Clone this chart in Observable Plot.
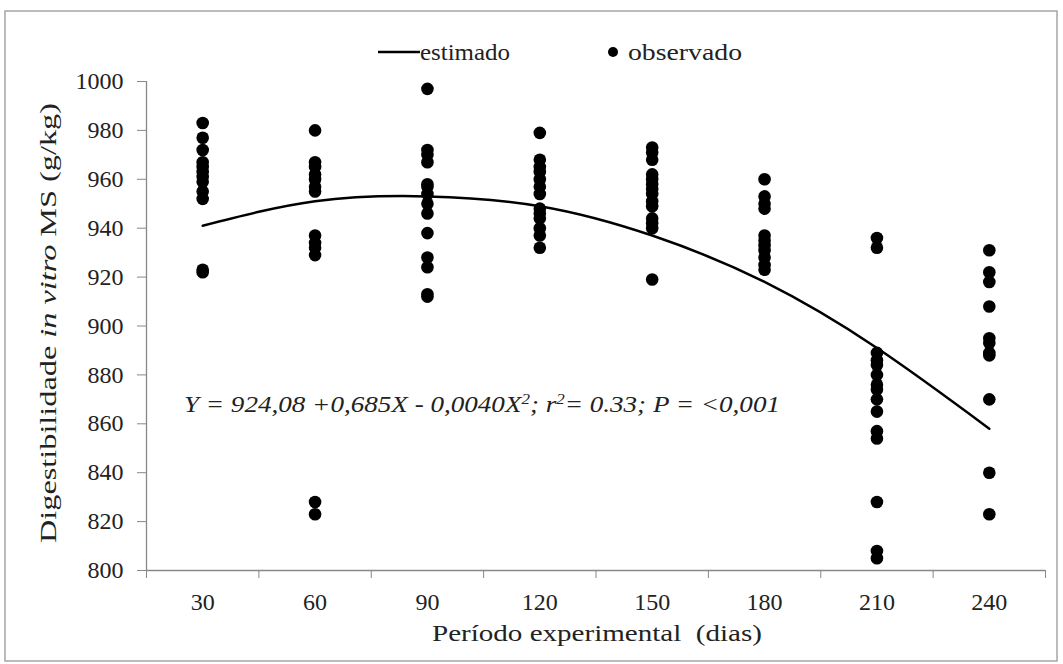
<!DOCTYPE html>
<html>
<head>
<meta charset="utf-8">
<script src="https://cdn.jsdelivr.net/npm/d3@7"></script>
<script src="https://cdn.jsdelivr.net/npm/@observablehq/plot@0.6"></script>
<style>
  html, body { margin: 0; padding: 0; background: #fff; }
  #chart svg { display: block; }
</style>
</head>
<body>
<div id="chart"></div>
<script>
// Categories (days) and tick labels
const xCats = [30, 60, 90, 120, 150, 180, 210, 240];
const xBounds = [15, 45, 75, 105, 135, 165, 195, 225, 255];
const yTicks = [800, 820, 840, 860, 880, 900, 920, 940, 960, 980, 1000];

// Observed values per period (g/kg)
const obs30  = [983, 977, 972, 967, 965, 963, 961, 959, 955, 952, 923, 922];
const obs60  = [980, 967, 965, 962, 960, 957, 955, 937, 934, 932, 929, 828, 823];
const obs90  = [997, 972, 970, 967, 958, 957, 954, 950, 946, 938, 928, 924, 913, 912];
const obs120 = [979, 968, 965, 963, 960, 957, 954, 948, 946, 944, 940, 937, 932];
const obs150 = [973, 971, 968, 962, 960, 958, 956, 954, 951, 949, 944, 942, 940, 919];
const obs180 = [960, 953, 950, 948, 937, 935, 933, 931, 928, 925, 923];
const obs210 = [936, 932, 889, 886, 884, 880, 876, 874, 870, 865, 857, 854, 828, 808, 805];
const obs240 = [931, 922, 918, 908, 895, 893, 889, 888, 870, 840, 823];

// Estimated (fitted) values read at each period
const estimated = [941, 951, 953, 949, 937, 918, 891, 858];

const obsSeries = [obs30, obs60, obs90, obs120, obs150, obs180, obs210, obs240];
const observed = xCats.flatMap((x, i) => obsSeries[i].map(v => ({x, v})));
const estData = xCats.map((x, i) => ({x, v: estimated[i]}));

const FONT = '"Liberation Serif", "Times New Roman", serif';
const FS = 24;

const plot = Plot.plot({
  width: 1063,
  height: 664,
  marginLeft: 146,
  marginRight: 18,
  marginTop: 81,
  marginBottom: 94,
  style: {fontFamily: FONT, fontSize: FS + "px", color: "#222", background: "#fff"},
  x: {type: "linear", domain: [15, 255]},
  y: {domain: [800, 1000]},
  marks: [
    Plot.ruleY([800], {stroke: "#888", strokeWidth: 1.3}),
    Plot.ruleX([15], {y1: 800, y2: 1000, stroke: "#888", strokeWidth: 1.3}),
    Plot.axisY(yTicks, {tickSize: 9, tickPadding: 14, tickFormat: "d", stroke: "#888", fill: "#222", fontSize: FS, label: null}),
    Plot.axisX(xBounds, {tickSize: 8, tickFormat: () => "", stroke: "#888", label: null}),
    Plot.axisX(xCats, {tickSize: 0, tickPadding: 22, tickFormat: "d", fill: "#222", fontSize: FS, label: null}),
    Plot.line(estData, {x: "x", y: "v", curve: "natural", stroke: "#000", strokeWidth: 2.5}),
    Plot.dot(observed, {x: "x", y: "v", r: 6.3, fill: "#000", stroke: "none"})
  ]
});

document.getElementById("chart").appendChild(plot);

const svg = d3.select(plot);

// Chart border
svg.insert("rect", ":first-child")
  .attr("x", 5).attr("y", 11).attr("width", 1052).attr("height", 650)
  .attr("fill", "none").attr("stroke", "#a6a6a6").attr("stroke-width", 1.5);

// Legend
const lg = svg.append("g").attr("font-family", FONT).attr("font-size", FS).attr("fill", "#222")
  .attr("text-anchor", "start");
lg.append("line").attr("x1", 378).attr("x2", 420).attr("y1", 52).attr("y2", 52)
  .attr("stroke", "#000").attr("stroke-width", 2.5);
lg.append("text").attr("x", 420).attr("y", 60)
  .attr("textLength", 90).attr("lengthAdjust", "spacingAndGlyphs").text("estimado");
lg.append("circle").attr("cx", 613).attr("cy", 52).attr("r", 5).attr("fill", "#000");
lg.append("text").attr("x", 628).attr("y", 60)
  .attr("textLength", 114).attr("lengthAdjust", "spacingAndGlyphs").text("observado");

// Equation
const eq = svg.append("text").attr("x", 184).attr("y", 412).attr("text-anchor", "start")
  .attr("font-family", FONT).attr("font-size", FS).attr("font-style", "italic").attr("fill", "#222")
  .attr("textLength", 596).attr("lengthAdjust", "spacingAndGlyphs");
eq.append("tspan").text("Y = 924,08 +0,685X - 0,0040X");
eq.append("tspan").attr("baseline-shift", "super").attr("font-size", 15).text("2");
eq.append("tspan").text("; r");
eq.append("tspan").attr("baseline-shift", "super").attr("font-size", 15).text("2");
eq.append("tspan").text("= 0.33; P = <0,001");

// Axis titles
svg.append("text").attr("x", 597).attr("y", 641).attr("text-anchor", "middle")
  .attr("font-family", FONT).attr("font-size", FS).attr("fill", "#222")
  .attr("textLength", 330).attr("lengthAdjust", "spacingAndGlyphs")
  .text("Período experimental  (dias)");

const yt = svg.append("text").attr("transform", "translate(56,323) rotate(-90)")
  .attr("text-anchor", "middle")
  .attr("font-family", FONT).attr("font-size", FS).attr("fill", "#222")
  .attr("textLength", 440).attr("lengthAdjust", "spacingAndGlyphs");
yt.append("tspan").text("Digestibilidade ");
yt.append("tspan").attr("font-style", "italic").text("in vitro");
yt.append("tspan").text(" MS (g/kg)");
</script>
</body>
</html>
